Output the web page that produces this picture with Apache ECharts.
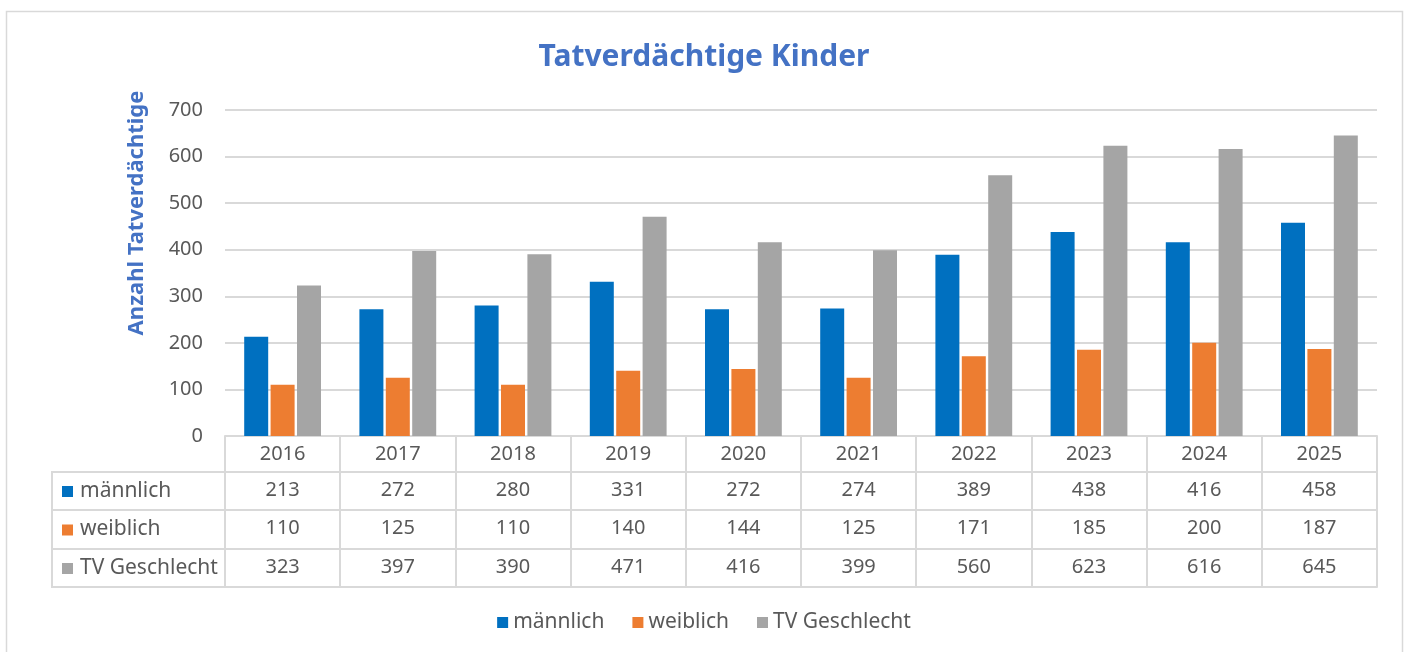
<!DOCTYPE html>
<html lang="de">
<head>
<meta charset="UTF-8">
<title>Tatverdächtige Kinder</title>
<script src="https://cdn.jsdelivr.net/npm/echarts@6/dist/echarts.min.js"></script>
<style>
  html, body { margin: 0; padding: 0; background: #fff; }
  #chart { width: 1408px; height: 652px; }
</style>
</head>
<body>
<div id="chart"></div>
<script>
// Daten
var years = ['2016', '2017', '2018', '2019', '2020', '2021', '2022', '2023', '2024', '2025'];
var maennlich = [213, 272, 280, 331, 272, 274, 389, 438, 416, 458];
var weiblich = [110, 125, 110, 140, 144, 125, 171, 185, 200, 187];
var tvGeschlecht = [323, 397, 390, 471, 416, 399, 560, 623, 616, 645];
var seriesNames = ['männlich', 'weiblich', 'TV Geschlecht'];
var seriesColors = ['#0070C0', '#ED7D31', '#A5A5A5'];
var yMin = 0, yMax = 700, yStep = 100;

// Layout
var font = '"Noto Sans", sans-serif';
var textGray = '#595959';
var lineGray = '#d9d9d9';
var plotLeft = 225, plotRight = 1377, plotTop = 110, axisY = 436;
var rowEdges = [436, 472, 510, 549, 587];
var tableLeft = 52;
var rows = [maennlich, weiblich, tvGeschlecht];

var myChart = echarts.init(document.getElementById('chart'));

// x-Achsen: Kategorie-Zeile + eine Achse je Tabellenzeile
var xAxes = [{
  type: 'category',
  data: years,
  position: 'bottom',
  axisLine: { lineStyle: { color: lineGray, width: 2 } },
  axisTick: { show: true, interval: 0, length: rowEdges[1] - rowEdges[0], lineStyle: { color: lineGray, width: 2 } },
  axisLabel: { color: textGray, fontSize: 20, fontFamily: font, margin: 8, interval: 0 }
}];
rows.forEach(function (vals, i) {
  xAxes.push({
    type: 'category',
    data: years,
    position: 'bottom',
    offset: rowEdges[i + 1] - axisY,
    axisLine: { lineStyle: { color: lineGray, width: 2 } },
    axisTick: { show: true, interval: 0, length: rowEdges[i + 2] - rowEdges[i + 1], lineStyle: { color: lineGray, width: 2 } },
    axisLabel: {
      color: textGray, fontSize: 20, fontFamily: font, margin: 8, interval: 0,
      formatter: function (v, idx) { return String(vals[idx]); }
    }
  });
});
xAxes.push({
  type: 'category',
  data: years,
  position: 'bottom',
  offset: rowEdges[4] - axisY,
  axisLine: { lineStyle: { color: lineGray, width: 2 } },
  axisTick: { show: false },
  axisLabel: { show: false }
});

// Rahmen und Zeilenköpfe der Datentabelle
var graphics = [{
  type: 'rect',
  shape: { x: 6.5, y: 11.5, width: 1396, height: 700 },
  style: { fill: 'none', stroke: lineGray, lineWidth: 1.5 },
  silent: true
}];
seriesNames.forEach(function (name, i) {
  var top = rowEdges[i + 1], h = rowEdges[i + 2] - rowEdges[i + 1];
  graphics.push({
    type: 'rect',
    shape: { x: tableLeft, y: top, width: plotLeft - tableLeft, height: h },
    style: { fill: 'none', stroke: lineGray, lineWidth: 2 },
    silent: true
  });
  graphics.push({
    type: 'rect',
    shape: { x: tableLeft + 10, y: top + h / 2 - 5, width: 11, height: 11 },
    style: { fill: seriesColors[i] },
    silent: true
  });
  graphics.push({
    type: 'text',
    x: tableLeft + 28,
    y: top + h / 2,
    style: { text: name, fill: textGray, fontSize: 21, fontFamily: font, textVerticalAlign: 'middle' },
    silent: true
  });
});

var option = {
  backgroundColor: '#fff',
  animation: false,
  title: {
    text: 'Tatverdächtige Kinder',
    left: 'center',
    top: 37,
    textStyle: { color: '#4472C4', fontSize: 30, fontWeight: 'bold', fontFamily: font }
  },
  legend: {
    bottom: 14,
    left: 'center',
    icon: 'rect',
    itemWidth: 11,
    itemHeight: 11,
    itemGap: 28,
    textStyle: { color: textGray, fontSize: 21, fontFamily: font },
    data: seriesNames
  },
  grid: {
    left: plotLeft,
    right: 1408 - plotRight,
    top: plotTop,
    bottom: 652 - axisY
  },
  xAxis: xAxes,
  yAxis: {
    type: 'value',
    min: yMin,
    max: yMax,
    interval: yStep,
    name: 'Anzahl Tatverdächtige',
    nameLocation: 'middle',
    nameGap: 77,
    nameTextStyle: { color: '#4472C4', fontSize: 22, fontWeight: 'bold', fontFamily: font, padding: [0, 0, 0, 120] },
    axisLine: { show: false },
    axisTick: { show: false },
    axisLabel: { color: textGray, fontSize: 20, fontFamily: font, margin: 22 },
    splitLine: { lineStyle: { color: lineGray, width: 2 } }
  },
  graphic: graphics,
  series: [maennlich, weiblich, tvGeschlecht].map(function (d, i) {
    return {
      name: seriesNames[i],
      type: 'bar',
      xAxisIndex: 0,
      data: d,
      barWidth: 24,
      barGap: '10%',
      itemStyle: { color: seriesColors[i] }
    };
  })
};

myChart.setOption(option);
</script>
</body>
</html>
